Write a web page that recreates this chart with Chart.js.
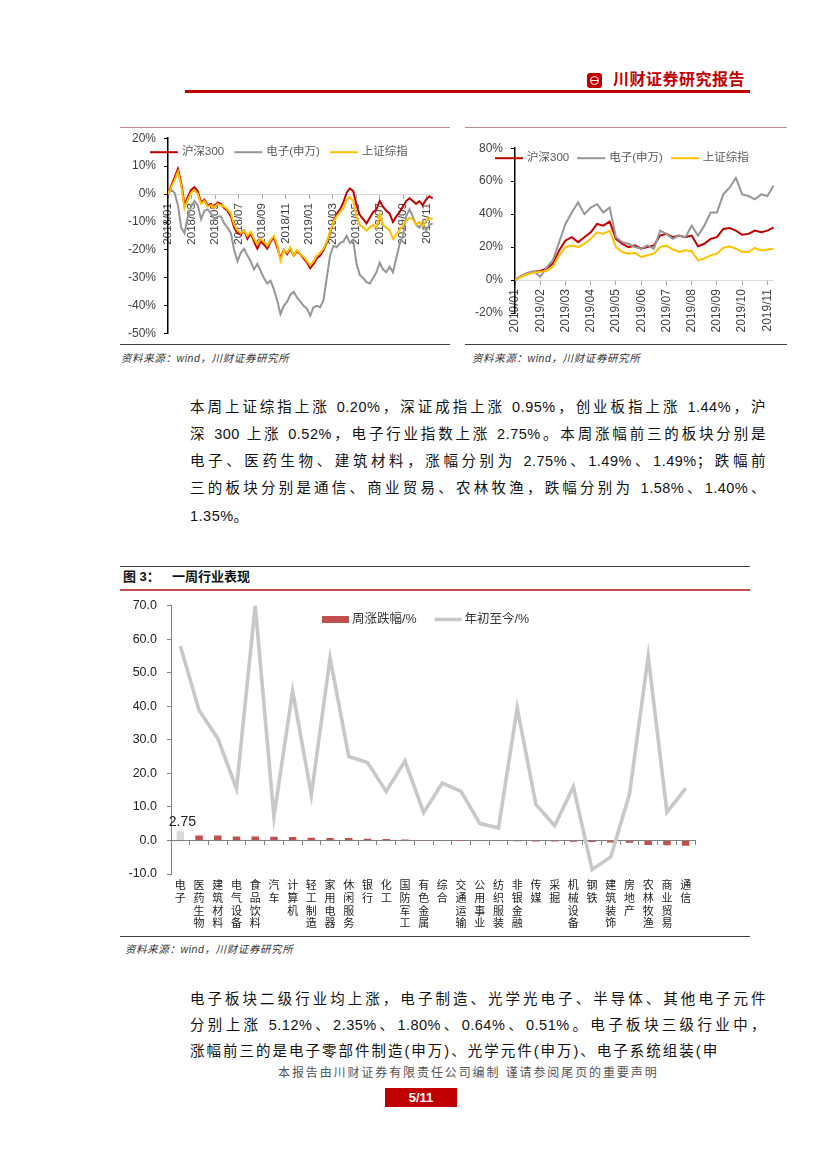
<!DOCTYPE html>
<html><head><meta charset="utf-8">
<script src="https://cdn.jsdelivr.net/npm/chart.js@4.4.1/dist/chart.umd.min.js"></script>
<style>
html,body{margin:0;padding:0;background:#fff;}
body{width:827px;height:1169px;position:relative;overflow:hidden;font-family:'Liberation Sans','Noto Sans CJK SC',sans-serif;color:#111;}
.abs{position:absolute;}
.rule{position:absolute;height:1px;}
.src{position:absolute;font-size:10.5px;font-style:italic;color:#333;letter-spacing:0.6px;white-space:nowrap;line-height:14px;}
.p{position:absolute;left:190px;width:576px;font-size:14.5px;line-height:20px;height:20px;letter-spacing:0.5px;color:#111;}
.j{text-align:justify;text-align-last:justify;}
canvas{position:absolute;}
</style>
</head><body>

<!-- header -->
<div class="abs" style="left:587px;top:73px;width:15px;height:15px;background:#c00000;border-radius:3px;">
  <div class="abs" style="left:2.5px;top:2.5px;width:7px;height:7px;border:1.5px solid #fff;border-radius:50%;"></div>
  <div class="abs" style="left:4px;top:6.75px;width:7px;height:1.5px;background:#fff;"></div>
</div>
<div class="abs" style="left:613px;top:70px;font-size:16px;line-height:20px;font-weight:bold;color:#c00000;letter-spacing:0.5px;white-space:nowrap;">川财证券研究报告</div>
<div class="rule" style="left:185px;top:90px;width:565px;height:3px;background:#c00000;"></div>

<!-- small chart frames -->
<div class="rule" style="left:120px;top:127px;width:330px;background:#b98a8a;"></div>
<div class="rule" style="left:465px;top:127px;width:322px;background:#b98a8a;"></div>
<canvas id="cL" width="330" height="226" style="left:120px;top:123px;"></canvas>
<canvas id="cR" width="322" height="205" style="left:465px;top:132.5px;"></canvas>
<div class="rule" style="left:120px;top:344px;width:330px;background:#404040;"></div>
<div class="rule" style="left:465px;top:344px;width:322px;background:#404040;"></div>
<div class="src" style="left:121px;top:351px;">资料来源：wind，川财证券研究所</div>
<div class="src" style="left:472px;top:351px;">资料来源：wind，川财证券研究所</div>

<!-- paragraph 1 -->
<div class="p j" style="top:396.7px;">本周上证综指上涨 0.20%，深证成指上涨 0.95%，创业板指上涨 1.44%，沪</div>
<div class="p j" style="top:424px;">深 300 上涨 0.52%，电子行业指数上涨 2.75%。本周涨幅前三的板块分别是</div>
<div class="p j" style="top:451.2px;">电子、医药生物、建筑材料，涨幅分别为 2.75%、1.49%、1.49%；跌幅前</div>
<div class="p j" style="top:478.4px;">三的板块分别是通信、商业贸易、农林牧渔，跌幅分别为 1.58%、1.40%、</div>
<div class="p" style="top:505.5px;">1.35%。</div>

<!-- figure 3 -->
<div class="rule" style="left:120px;top:566px;width:630px;background:#404040;"></div>
<div class="abs" style="left:123px;top:568px;font-size:13px;line-height:18px;font-weight:bold;white-space:nowrap;">图 3：</div>
<div class="abs" style="left:172px;top:568px;font-size:13px;line-height:18px;font-weight:bold;white-space:nowrap;">一周行业表现</div>
<div class="rule" style="left:120px;top:589px;width:630px;height:1.5px;background:#c0504d;"></div>
<canvas id="cM" width="630" height="348" style="left:120px;top:588px;"></canvas>
<div class="rule" style="left:120px;top:936px;width:630px;background:#404040;"></div>
<div class="src" style="left:125px;top:942px;">资料来源：wind，川财证券研究所</div>

<!-- paragraph 2 -->
<div class="p j" style="top:989.3px;">电子板块二级行业均上涨，电子制造、光学光电子、半导体、其他电子元件</div>
<div class="p j" style="top:1015px;">分别上涨 5.12%、2.35%、1.80%、0.64%、0.51%。电子板块三级行业中，</div>
<div class="p" style="top:1041px;letter-spacing:2px;">涨幅前三的是电子零部件制造(申万)、光学元件(申万)、电子系统组装(申</div>

<!-- footer -->
<div class="abs" style="left:278px;top:1065px;font-size:12px;line-height:16px;color:#555;letter-spacing:1.9px;white-space:nowrap;">本报告由川财证券有限责任公司编制 谨请参阅尾页的重要声明</div>
<div class="abs" style="left:385px;top:1088px;width:72px;height:19px;background:#c00000;color:#fff;font-weight:bold;font-size:13px;line-height:19px;text-align:center;">5/11</div>

<script>
// ---------------- data: left chart (2018/01 - 2019/11, cumulative %) ----------------
const tickLabelsL = ['2018/01','2018/03','2018/05','2018/07','2018/09','2018/11','2019/01','2019/03','2019/05','2019/07','2019/09','2019/11'];
const hs300L = [0,3,6,9,4,-4,-1,1.5,2.5,1,
  -3,-2,-4,-3.5,-5,-3,-3.5,-5,-6,-8,
  -12,-14,-14.5,-13,-16,-14,-17,-19.5,-17,-18,
  -19.5,-17,-15.5,-19,-23,-20,-21.5,-19.5,-22,-20.5,
  -21.5,-23,-24.5,-26.5,-25,-23,-22,-20,-17.5,-14,
  -10,-7,-5.5,-3,0.5,2,1,-4,-7.5,-9,
  -10.5,-8.5,-6.5,-5.5,-2.5,-4.5,-6,-7,-10,-8,
  -6.5,-4.5,-2.5,-1.5,-2.5,-3.5,-2.5,-4,-2,-0.8,
  -1.5];
const elecL = [0,1.5,0.5,-4,-12,-14,-8,-4.5,-2.5,-4,
  -9,-6,-5.5,-7,-9,-8,-8,-10.5,-12,-14,
  -20,-24,-21,-19.5,-22,-24,-27,-25,-27.5,-30,
  -32,-31,-34,-38,-43,-40,-38.5,-36,-35,-37,
  -38.5,-40,-41,-43.5,-40.5,-40,-40.5,-38,-30,-22,
  -18.5,-19,-17.5,-17,-15,-17.5,-16.5,-25,-29,-30,
  -31.5,-32,-30,-28,-24.5,-27,-28,-26,-28,-23,
  -18,-15,-8,-5.5,-8,-11,-12,-10,-13,-11,
  -10.5];
const shcompL = [0,2.5,5,8,3,-5,-2,0.5,1.5,0,
  -3.5,-2.5,-4.5,-4,-5,-3.5,-4,-4.5,-5.5,-7,
  -11,-13,-14,-13,-15,-13.5,-16,-18,-16,-17,
  -18.5,-16.5,-15,-18,-24,-20,-21,-19,-22,-20,
  -21.5,-22.5,-24,-25.5,-24,-22,-21,-19.5,-17,-13.5,
  -10,-8,-6.5,-5,-2,-1,-2.5,-8,-11,-12,
  -13,-12,-11,-12,-7,-11,-12,-13,-16,-14.5,
  -13,-11,-9.5,-8.5,-9,-11,-10,-11.5,-9.5,-8.5,
  -9];
// sample dates in months since 2018/01 (about every 8-9 trading days)
const monthsL = hs300L.map((_, i) => i * 0.2815);

// ---------------- data: right chart (2019/01 - 2019/11, cumulative %) ----------------
const tickLabelsR = ['2019/01','2019/02','2019/03','2019/04','2019/05','2019/06','2019/07','2019/08','2019/09','2019/10','2019/11'];
const hs300R = [0,2.5,4,5,5.5,7,10,18,24,26,23,26,29,34,33,35.5,25,22,20,21,19,20,21,27,28,26,27,26,27,20.5,22,25,26,31,31.5,30,27.5,28,30,29,30,32];
const elecR = [0,2.4,4.4,5.4,2,7.5,12,23,34,41,47,40,44,46,41,44,26,23,22,20,19,21,19,30,28,25,27,26,33,27,33,41,41,52,56,62,52,51,49,52,51,57.5];
const shcompR = [0,2,3.5,4.5,5,5.5,8,15,20,21,20,22,25,29,28,30,20,17,16,16.5,14,15,16,20,21,18.5,17,18,17.5,12,13,15,16,19.5,20.5,19,17,17,19.5,18,18.5,19];
// weekly sample dates in months since 2019/01
const monthsR = hs300R.map((_, i) => i * 0.25);

// ---------------- data: figure 3 ----------------
const industries = ['电子','医药生物','建筑材料','电气设备','食品饮料','汽车','计算机','轻工制造','家用电器','休闲服务','银行','化工','国防军工','有色金属','综合','交通运输','公用事业','纺织服装','非银金融','传媒','采掘','机械设备','钢铁','建筑装饰','房地产','农林牧渔','商业贸易','通信'];
const weekChange = [2.75,1.49,1.49,1.2,1.15,1.1,1.0,0.8,0.75,0.7,0.5,0.4,0.25,0.05,0.02,-0.02,-0.1,-0.15,-0.25,-0.3,-0.3,-0.4,-0.45,-0.6,-0.7,-1.35,-1.40,-1.58];
const ytdChange = [57.9,38.8,30.4,15.4,70,7.1,44.5,13.6,54.4,25,23.2,14.6,23.7,8.3,17.1,14.6,5.1,3.7,39.5,10.7,4.4,16,-8.7,-4.9,13.8,54.9,8.4,15.5];

// ---------------- chart setup ----------------
Chart.defaults.font.family = "'Liberation Sans','Noto Sans CJK SC',sans-serif";
Chart.defaults.color = '#404040';
Chart.defaults.animation = false;

const inLegend = {
  id: 'inLegend',
  afterDraw(chart, args, o) {
    if (!o || !o.items) return;
    const ctx = chart.ctx, ca = chart.chartArea;
    ctx.save();
    ctx.font = o.font;
    ctx.textBaseline = 'middle';
    ctx.textAlign = 'left';
    let x = ca.left + o.dx;
    const y = ca.top + o.dy;
    o.items.forEach(it => {
      const ds = chart.data.datasets[it.index];
      if (it.kind === 'box') {
        ctx.fillStyle = it.color;
        ctx.fillRect(x, y - it.h / 2, o.symbolWidth, it.h);
      } else {
        ctx.strokeStyle = ds.borderColor;
        ctx.lineWidth = it.lw || ds.borderWidth;
        ctx.beginPath(); ctx.moveTo(x, y); ctx.lineTo(x + o.symbolWidth, y); ctx.stroke();
      }
      x += o.symbolWidth + o.textGap;
      ctx.fillStyle = o.color;
      ctx.fillText(ds.label, x, y);
      x += ctx.measureText(ds.label).width + o.itemGap;
    });
    ctx.restore();
  }
};
Chart.register(inLegend);

function lineDs(label, xs, ys, color) {
  return { label, data: ys.map((v, i) => ({ x: xs[i], y: v })), borderColor: color, backgroundColor: color,
    borderWidth: 2, pointRadius: 0, tension: 0, fill: false };
}

function smallChart(id, xs, s1, s2, s3, tickLabels, xStep, xmax, ymin, ymax, yStep, yWidth, pad, xFont, legendOpt) {
  return new Chart(document.getElementById(id), {
    type: 'line',
    data: { datasets: [
      lineDs('上证综指', xs, s3, '#ffc000'),
      lineDs('电子(申万)', xs, s2, '#969696'),
      lineDs('沪深300', xs, s1, '#c00000')
    ]},
    options: {
      responsive: false,
      layout: { padding: pad },
      plugins: { legend: { display: false }, tooltip: { enabled: false }, inLegend: legendOpt },
      scales: {
        x: {
          type: 'linear', position: { y: 0 }, min: 0, max: xmax,
          ticks: { stepSize: xStep, includeBounds: false, autoSkip: false,
            minRotation: 90, maxRotation: 90, padding: 5, font: { size: xFont }, color: '#404040',
            callback: (v, i) => tickLabels[i] },
          grid: { drawOnChartArea: false, drawTicks: true, tickLength: 4, color: '#a6a6a6' },
          border: { color: '#d9d9d9', width: 1 }
        },
        y: {
          min: ymin, max: ymax,
          ticks: { stepSize: yStep, padding: 8, font: { size: 12 }, color: '#404040', callback: v => v + '%' },
          grid: { drawOnChartArea: false, drawTicks: true, tickLength: 4, color: '#000' },
          border: { color: '#000', width: 1.5 },
          afterFit: s => { s.width = yWidth; }
        }
      }
    }
  });
}

const legendSmallItems = [{ index: 2, kind: 'line' }, { index: 1, kind: 'line' }, { index: 0, kind: 'line' }];
smallChart('cL', monthsL, hs300L, elecL, shcompL, tickLabelsL, 2, 22.55, -50, 20, 10, 48,
  { top: 0, right: 17, bottom: 0, left: 0 }, 11.5,
  { items: legendSmallItems, dx: -18, dy: 14, symbolWidth: 28, textGap: 4, itemGap: 10, font: "11.5px 'Liberation Sans','Noto Sans CJK SC',sans-serif", color: '#595959' });
smallChart('cR', monthsR, hs300R, elecR, shcompR, tickLabelsR, 1, 10.25, -20, 80, 20, 50,
  { top: 0, right: 7, bottom: 25, left: 0 }, 12,
  { items: legendSmallItems, dx: -20, dy: 10, symbolWidth: 28, textGap: 4, itemGap: 8, font: "11.5px 'Liberation Sans','Noto Sans CJK SC',sans-serif", color: '#595959' });

// ---------------- figure 3 ----------------
const barLabel = {
  id: 'barLabel',
  afterDatasetsDraw(chart) {
    const el = chart.getDatasetMeta(0).data[0];
    const ctx = chart.ctx;
    ctx.save();
    ctx.font = "14px 'Liberation Sans',sans-serif";
    ctx.fillStyle = '#222';
    ctx.textAlign = 'center';
    ctx.textBaseline = 'bottom';
    ctx.fillText(weekChange[0].toFixed(2), el.x + 2, el.y - 2);
    ctx.restore();
  }
};

new Chart(document.getElementById('cM'), {
  type: 'bar',
  data: {
    labels: industries.map(s => s.split('')),
    datasets: [
      { type: 'bar', label: '周涨跌幅/%', data: weekChange, order: 1,
        backgroundColor: weekChange.map((v, i) => i === 0 ? '#d9d9d9' : '#c0504d'),
        barPercentage: 0.4, categoryPercentage: 1.0 },
      { type: 'line', label: '年初至今/%', data: ytdChange, order: 0,
        borderColor: '#c8c8c8', backgroundColor: '#c8c8c8', borderWidth: 3.6, pointRadius: 0, tension: 0, fill: false }
    ]
  },
  options: {
    responsive: false,
    layout: { padding: { top: 0, right: 55, bottom: 0, left: 0 } },
    plugins: {
      legend: { display: false }, tooltip: { enabled: false },
      inLegend: { items: [{ index: 0, kind: 'box', color: '#c0504d', h: 7 }, { index: 1, kind: 'line', lw: 3.6 }],
        dx: 151, dy: 14, symbolWidth: 27, textGap: 3, itemGap: 18,
        font: "12.5px 'Liberation Sans','Noto Sans CJK SC',sans-serif", color: '#333' }
    },
    scales: {
      x: {
        position: 'bottom', offset: true,
        ticks: { autoSkip: false, maxRotation: 0, minRotation: 0, padding: 6, color: '#222',
          font: { size: 11, lineHeight: 1.15 } },
        grid: { display: false, drawTicks: false },
        border: { display: false },
        afterFit: s => { s.height = 62; }
      },
      x2: {
        type: 'category', position: { y: 0 }, offset: true,
        ticks: { display: false },
        grid: { offset: true, drawOnChartArea: false, drawTicks: true, tickLength: 4, color: '#808080' },
        border: { display: true, color: '#808080', width: 1 }
      },
      y: {
        min: -10, max: 70,
        ticks: { stepSize: 10, padding: 10, color: '#222', font: { size: 12.5 }, callback: v => v.toFixed(1) },
        grid: { drawOnChartArea: false, drawTicks: true, tickLength: 4, color: '#808080' },
        border: { color: '#808080', width: 1 },
        afterFit: s => { s.width = 51; }
      }
    }
  },
  plugins: [barLabel]
});
</script>
</body></html>
